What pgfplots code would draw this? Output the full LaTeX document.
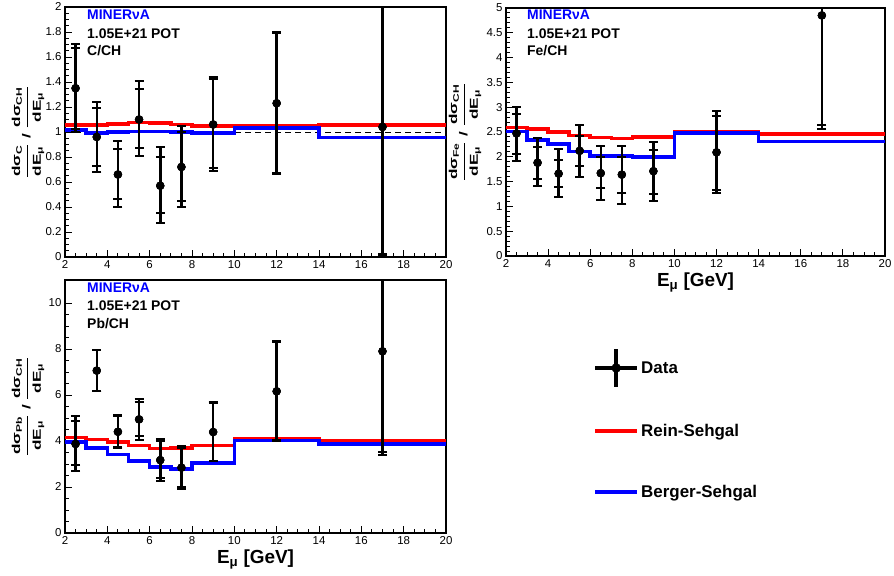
\documentclass[border=0pt]{standalone}
\usepackage{fontspec}
\setmainfont{Liberation Sans}
\usepackage{graphicx}
\usepackage{pgfplots}
\usepackage{pgfplotstable}
\pgfplotsset{compat=1.18}

\pgfplotstableread{
x y lo hi loi hii
2.5 1.35 1.00 1.70 1.02 1.67
3.5 0.96 0.68 1.24 0.73 1.19
4.5 0.66 0.40 0.93 0.46 0.86
5.5 1.10 0.81 1.41 0.87 1.34
6.5 0.57 0.27 0.88 0.35 0.80
7.5 0.72 0.40 1.05 0.45 1.00
9 1.06 0.69 1.44 0.71 1.42
12 1.23 0.66 1.80 0.67 1.79
17 1.04 0.01 2.30 0.02 2.25
}\dataC
\pgfplotstableread{
x y lo hi loi hii
2.5 2.47 1.92 3.00 2.05 2.87
3.5 1.88 1.41 2.38 1.56 2.20
4.5 1.66 1.18 2.15 1.39 1.94
5.5 2.12 1.60 2.64 1.81 2.42
6.5 1.67 1.12 2.22 1.37 2.00
7.5 1.64 1.05 2.22 1.28 2.00
9 1.71 1.10 2.30 1.25 2.14
12 2.09 1.27 2.92 1.33 2.82
17 4.85 2.57 5.00 2.64 5.00
}\dataFe
\pgfplotstableread{
x y lo hi loi hii
2.5 3.87 2.68 5.07 2.95 4.85
3.5 7.06 6.16 7.97 6.18 7.95
4.5 4.40 3.70 5.15 3.75 5.10
5.5 4.94 4.06 5.83 4.20 5.70
6.5 3.17 2.24 4.10 2.40 4.00
7.5 2.84 1.90 3.78 2.00 3.70
9 4.39 3.13 5.68 3.15 5.65
12 6.16 4.00 8.33 4.05 8.30
17 7.90 3.38 12 3.50 12
}\dataPb

\tikzset{intext/.style={anchor=base west, inner sep=0pt, font=\bfseries\fontsize{14}{16}\selectfont}}
\pgfplotsset{
 rootax/.style={
   scale only axis, xmin=2, xmax=20, xtick={2,4,...,20}, minor x tick num=3,
   tick pos=left, tick align=inside, major tick length=7bp, minor tick length=4bp,
   every tick/.style={black, line width=0.9bp},
   axis line style={line width=2bp},
   tick label style={font=\fontsize{11.5}{13}\selectfont},
   /pgf/number format/assume math mode=true,
   y label style={at={(axis description cs:-0.097,0.5)}, anchor=center, font=\bfseries\fontsize{11.5}{13}\selectfont},
   x label style={at={(axis description cs:0.5,0)}, anchor=base, yshift=-31bp, font=\bfseries\fontsize{19}{22}\selectfont},
 },
 model/.style={const plot, line width=3.5bp, no marks, forget plot},
 dat/.style={only marks, mark=*, mark size=4bp, black, forget plot,
   error bars/.cd, y dir=both, y explicit,
   error bar style={line width=2.5bp},
   error mark options={rotate=90, mark size=4.5bp, line width=2bp}},
}
\newcommand{\yfrac}[1]{\scalebox{1.5}[1]{$\displaystyle{\mbox{dσ\textsubscript{#1}}\above1.5bp\mbox{dE\textsubscript{μ}}}$ / $\displaystyle{\mbox{dσ\textsubscript{CH}}\above1.5bp\mbox{dE\textsubscript{μ}}}$}}

\begin{document}
\begin{tikzpicture}[x=1bp,y=1bp]
\useasboundingbox (0,0) rectangle (894,576);

% Panel 1: C/CH
\begin{axis}[rootax, at={(65bp,319bp)}, anchor=south west, width=381bp, height=250bp,
  ymin=0, ymax=2, ytick={0,0.2,...,2.01}, minor y tick num=3,
  ylabel={\yfrac{C}}]
\addplot[black, line width=0.9bp, dash pattern=on 6bp off 4bp, forget plot] coordinates {(2,1) (20,1)};
\addplot[model, red] coordinates {(2,1.056) (3,1.056) (4,1.063) (5,1.077) (6,1.070) (7,1.060) (8,1.048) (10,1.053) (14,1.056) (20,1.056)};
\addplot[model, blue] coordinates {(2,1.016) (3,0.990) (4,1.000) (5,1.005) (6,1.005) (7,1.000) (8,0.990) (10,1.030) (14,0.955) (20,0.955)};
\addplot[dat] table[x=x, y=y, y error plus expr=\thisrow{hi}-\thisrow{y}, y error minus expr=\thisrow{y}-\thisrow{lo}] {\dataC};
\addplot[dat] table[x=x, y=y, y error plus expr=\thisrow{hii}-\thisrow{y}, y error minus expr=\thisrow{y}-\thisrow{loi}] {\dataC};
\node[intext, xshift=22bp, yshift=-13bp, text=blue] at (rel axis cs:0,1) {MINERνA};
\node[intext, xshift=22bp, yshift=-32bp] at (rel axis cs:0,1) {1.05E+21 POT};
\node[intext, xshift=22bp, yshift=-49bp] at (rel axis cs:0,1) {C/CH};
\end{axis}

% Panel 2: Fe/CH
\begin{axis}[rootax, at={(506bp,320bp)}, anchor=south west, width=379bp, height=248bp,
  ymin=0, ymax=5, ytick={0,0.5,...,5.01}, minor y tick num=4,
  y label style={at={(axis description cs:-0.108,0.5)}},
  ylabel={\yfrac{Fe}}, xlabel={E\textsubscript{μ} [GeV]}]
\addplot[model, red] coordinates {(2,2.59) (3,2.56) (4,2.50) (5,2.43) (6,2.39) (7,2.37) (8,2.40) (10,2.51) (14,2.46) (20,2.46)};
\addplot[model, blue] coordinates {(2,2.51) (3,2.34) (4,2.26) (5,2.11) (6,2.02) (7,2.02) (8,2.00) (10,2.48) (14,2.31) (20,2.31)};
\addplot[dat] table[x=x, y=y, y error plus expr=\thisrow{hi}-\thisrow{y}, y error minus expr=\thisrow{y}-\thisrow{lo}] {\dataFe};
\addplot[dat] table[x=x, y=y, y error plus expr=\thisrow{hii}-\thisrow{y}, y error minus expr=\thisrow{y}-\thisrow{loi}] {\dataFe};
\node[intext, xshift=21bp, yshift=-12bp, text=blue] at (rel axis cs:0,1) {MINERνA};
\node[intext, xshift=21bp, yshift=-31bp] at (rel axis cs:0,1) {1.05E+21 POT};
\node[intext, xshift=21bp, yshift=-48bp] at (rel axis cs:0,1) {Fe/CH};
\end{axis}

% Panel 3: Pb/CH
\begin{axis}[rootax, at={(65bp,43bp)}, anchor=south west, width=381bp, height=253bp,
  ymin=0, ymax=11, ytick={0,2,...,10}, minor y tick num=3,
  ylabel={\yfrac{Pb}}, xlabel={E\textsubscript{μ} [GeV]},
  legend style={at={(1.378,0.743)}, anchor=north west, draw=none, fill=none,
    font=\bfseries\fontsize{17}{20}\selectfont, row sep=23bp},
  legend cell align=left]
\addplot[model, red] coordinates {(2,4.16) (3,4.06) (4,3.96) (5,3.81) (6,3.67) (7,3.70) (8,3.81) (10,4.10) (14,4.01) (20,4.01)};
\addplot[model, blue] coordinates {(2,3.96) (3,3.70) (4,3.41) (5,3.14) (6,2.86) (7,2.78) (8,3.04) (10,4.03) (14,3.88) (20,3.88)};
\addplot[dat] table[x=x, y=y, y error plus expr=\thisrow{hi}-\thisrow{y}, y error minus expr=\thisrow{y}-\thisrow{lo}] {\dataPb};
\addplot[dat] table[x=x, y=y, y error plus expr=\thisrow{hii}-\thisrow{y}, y error minus expr=\thisrow{y}-\thisrow{loi}] {\dataPb};
\node[intext, xshift=22bp, yshift=-13bp, text=blue] at (rel axis cs:0,1) {MINERνA};
\node[intext, xshift=22bp, yshift=-31bp] at (rel axis cs:0,1) {1.05E+21 POT};
\node[intext, xshift=22bp, yshift=-49bp] at (rel axis cs:0,1) {Pb/CH};
\addlegendimage{legend image code/.code={\draw[black, line width=3.5bp] (0bp,0bp)--(42bp,0bp); \draw[black, line width=3.5bp] (21bp,-19bp)--(21bp,19bp); \fill[black] (21bp,0bp) circle (4.5bp);}}
\addlegendentry{Data}
\addlegendimage{legend image code/.code={\path[draw=none, fill=none] (0bp,-19bp) rectangle (1bp,19bp); \draw[red, line width=4bp] (0bp,0bp)--(42bp,0bp);}}
\addlegendentry{Rein-Sehgal}
\addlegendimage{legend image code/.code={\path[draw=none, fill=none] (0bp,-19bp) rectangle (1bp,19bp); \draw[blue, line width=4bp] (0bp,0bp)--(42bp,0bp);}}
\addlegendentry{Berger-Sehgal}
\end{axis}
\end{tikzpicture}
\end{document}
